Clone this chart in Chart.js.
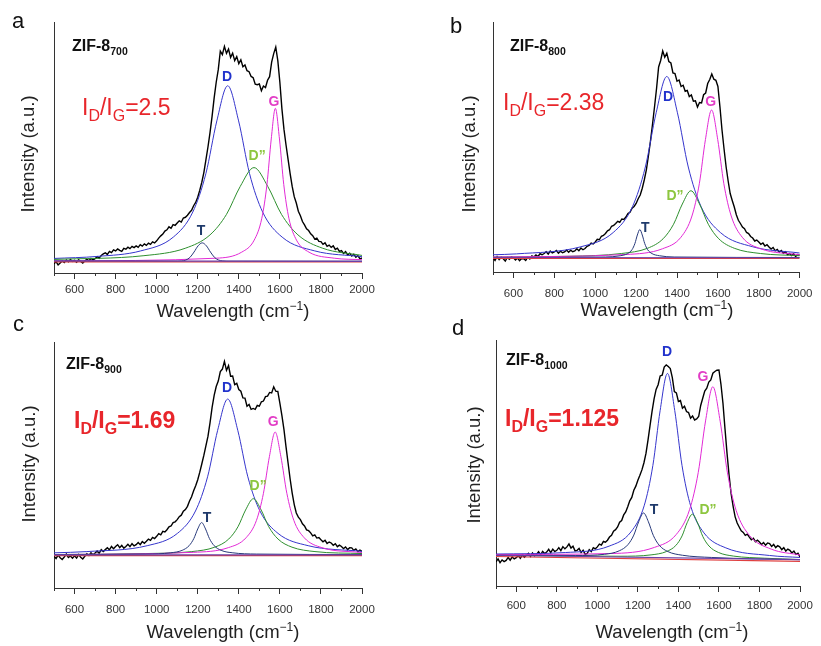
<!DOCTYPE html>
<html>
<head>
<meta charset="utf-8">
<script src="https://cdn.jsdelivr.net/npm/chart.js@4.4.1/dist/chart.umd.min.js"></script>
<style>
html, body { margin: 0; padding: 0; background: #fff; }
#wrap { position: relative; width: 821px; height: 646px; overflow: hidden; }
#wrap canvas { position: absolute; }
</style>
</head>
<body>
<div id="wrap">
  <canvas id="pa" width="410" height="322" style="left:0px;top:0px"></canvas>
  <canvas id="pb" width="411" height="322" style="left:410px;top:0px"></canvas>
  <canvas id="pc" width="410" height="334" style="left:0px;top:312px"></canvas>
  <canvas id="pd" width="411" height="334" style="left:410px;top:312px"></canvas>
</div>
<script>
// ---- data ----
const xTicks = [500, 600, 700, 800, 900, 1000, 1100, 1200, 1300, 1400, 1500, 1600, 1700, 1800, 1900, 2000];

// spectra sampled every 10 cm-1 from 500 to 2000
const wavenumbers = [];
for (let w = 500; w <= 2000; w += 10) wavenumbers.push(w);

const specA = [
  3.7,4.5,3.2,4.0,4.8,4.2,5.2,4.5,5.4,4.6,
  5.0,4.3,5.3,4.6,4.0,4.8,5.5,4.9,5.8,5.2,
  5.7,6.5,5.9,7.0,7.6,8.0,7.4,8.6,8.1,9.2,
  8.8,9.6,9.0,8.6,9.8,9.5,10.3,9.7,10.6,10.1,
  10.8,10.2,11.3,10.7,11.6,11.0,11.9,11.4,12.4,12.0,
  12.8,13.9,14.8,15.5,16.7,17.2,18.4,17.8,19.3,19.0,
  19.9,20.8,20.3,21.9,22.2,23.0,24.1,25.0,26.8,28.1,
  30.2,33.0,36.2,40.1,45.2,50.3,56.0,62.5,69.8,76.0,
  81.0,88.4,87.0,90.3,87.5,89.2,85.9,87.6,84.6,86.2,
  83.4,84.9,82.2,82.9,80.6,80.2,78.3,77.8,75.2,75.0,
  75.3,72.6,74.5,73.9,76.8,78.2,84.0,87.4,90.0,84.6,
  76.0,65.4,57.2,51.0,45.3,39.6,34.5,30.4,27.9,24.6,
  22.8,20.5,19.2,17.6,16.9,15.6,14.9,13.5,13.9,12.6,
  12.5,11.4,12.0,10.6,11.1,10.2,10.8,9.4,9.9,8.6,
  8.9,7.8,8.5,7.2,7.9,6.8,7.5,6.3,6.9,5.6,
  6.0
];
const specB = [
  5.7,4.6,6.2,5.0,5.9,5.3,4.4,5.8,5.1,6.1,
  5.7,4.8,5.6,4.5,5.4,5.3,4.6,5.9,5.2,6.4,
  6.0,6.8,6.2,7.3,6.9,7.4,8.1,7.2,8.4,7.6,
  8.0,8.6,7.5,8.3,7.7,8.0,8.8,7.9,8.7,8.1,
  8.4,9.3,8.5,9.6,8.9,9.4,10.3,10.6,11.6,11.2,
  12.0,13.1,12.9,14.3,14.6,15.4,16.5,16.9,18.3,18.6,
  19.4,20.3,19.9,21.2,21.0,22.0,23.4,23.9,25.5,26.2,
  27.4,29.3,30.8,33.5,36.9,40.8,46.4,52.3,59.0,66.1,
  73.5,82.0,84.6,88.4,85.9,87.5,84.2,83.6,79.6,79.4,
  76.3,76.8,74.2,74.7,72.3,72.6,70.2,70.8,68.3,68.5,
  66.0,67.8,67.6,70.9,71.6,75.4,77.0,79.2,77.1,76.7,
  74.2,66.0,56.8,49.2,42.1,36.4,31.4,28.6,26.0,22.9,
  20.7,19.4,18.0,17.3,15.8,15.4,14.2,13.6,12.4,12.8,
  12.0,11.1,11.6,10.4,10.9,10.0,9.2,9.8,8.5,9.0,
  8.0,8.6,7.5,8.1,7.0,7.4,6.6,7.3,6.2,7.0,
  6.7
];
const specC = [
  12.9,12.0,13.4,12.3,11.6,12.6,13.8,12.4,13.0,12.1,
  13.1,12.2,13.6,12.5,11.8,12.9,13.9,13.2,14.3,13.5,
  14.2,15.0,14.1,15.6,14.8,15.6,16.4,15.5,16.9,16.0,
  16.9,17.6,16.4,17.3,16.2,16.9,17.8,16.8,18.0,17.1,
  17.6,18.5,17.6,18.9,18.2,19.0,19.9,19.4,20.6,20.1,
  21.0,22.1,21.6,23.0,22.8,23.7,24.9,25.2,26.6,26.9,
  27.8,29.0,29.6,31.2,31.9,33.2,35.4,37.1,39.5,41.6,
  44.0,47.1,50.5,54.0,57.9,61.7,67.2,73.4,78.3,81.9,
  84.1,88.0,89.0,92.1,88.5,90.4,86.1,86.2,82.7,83.2,
  80.7,80.0,77.3,77.2,73.9,74.6,72.6,73.0,72.6,74.2,
  73.9,75.7,76.0,77.8,78.0,79.5,79.3,81.8,80.0,79.9,
  75.2,70.1,64.4,57.4,50.8,44.3,38.6,33.9,30.5,28.8,
  27.8,26.1,25.2,23.6,23.3,22.4,21.2,21.6,20.3,20.5,
  19.6,18.8,19.4,18.1,18.7,18.3,17.4,18.0,16.8,17.4,
  16.9,16.0,16.7,15.6,16.4,16.3,15.3,15.9,14.8,15.4,
  14.9
];
const specD = [
  9.8,11.0,9.5,10.6,9.9,10.4,11.6,10.5,11.8,11.0,
  11.5,12.4,11.3,12.6,11.7,12.5,13.3,12.0,13.4,12.3,
  12.8,13.9,12.7,14.1,13.2,13.8,14.9,13.6,15.0,14.0,
  14.5,15.6,14.4,16.0,15.1,15.9,17.1,15.4,16.2,14.3,
  14.5,15.3,13.6,14.5,12.9,13.2,14.8,14.0,15.6,15.1,
  15.9,17.0,16.6,18.1,17.8,18.6,19.9,20.6,22.3,22.9,
  24.0,25.9,26.6,28.9,30.1,32.2,34.6,36.0,38.9,40.6,
  43.0,45.0,47.2,50.1,53.9,59.3,65.2,71.0,76.1,79.9,
  81.8,85.4,85.7,89.0,89.9,89.2,88.4,84.7,79.0,78.5,
  75.0,75.4,72.3,73.1,70.9,70.5,68.2,69.1,67.5,67.9,
  68.9,73.4,76.3,79.2,80.4,82.9,83.8,86.5,87.2,87.7,
  87.8,82.0,74.2,63.8,53.9,45.1,37.6,32.4,28.1,25.6,
  24.0,22.4,21.8,20.6,21.1,19.9,18.8,19.4,18.0,18.6,
  17.9,16.9,17.7,16.6,17.5,17.2,16.1,16.9,15.6,16.4,
  15.9,14.8,15.6,14.2,15.0,14.5,13.4,14.2,12.9,13.3,
  11.8
];

// fitted components, [wavenumber, intensity]
const fitA_D  = [[500,5.8],[710,6.6],[922,8.8],[1081,14.3],[1176,24.3],[1240,39.7],[1293,60.6],[1346,74.6],[1399,60.6],[1452,39.7],[1516,24.3],[1611,14.3],[1770,8.8],[2000,6.5]];
const fitA_G  = [[500,4.8],[1291,5.9],[1414,8.3],[1475,13.1],[1512,21.8],[1537,35.2],[1558,53.4],[1578,65.6],[1598,53.4],[1619,35.2],[1644,21.8],[1681,13.1],[1742,8.3],[1865,5.9],[2000,5.3]];
const fitA_D2 = [[500,5.4],[938,6.9],[1139,9.85],[1260,15.2],[1340,23.35],[1407,34.5],[1474,42],[1541,34.5],[1608,23.35],[1688,15.2],[1809,9.85],[2000,7.0]];
const fitA_T  = [[500,4.7],[1102,4.7],[1122,4.8],[1142,5.16],[1162,6.2],[1182,8.35],[1202,10.84],[1222,12.0],[1242,10.84],[1262,8.35],[1282,6.2],[1302,5.16],[1322,4.8],[1342,4.7],[2000,4.7]];
const baseA_red = [[500,4.4],[2000,4.4]];
const baseA_pur = [[500,4.8],[2000,4.6]];

const fitB_D  = [[500,6.9],[615,7.25],[930,10.1],[1088,15.8],[1182,26.1],[1245,42.0],[1298,63.7],[1350,78.2],[1402,63.7],[1455,42.0],[1518,26.1],[1612,15.8],[1770,10.1],[2000,7.6]];
const fitB_G  = [[500,6.0],[1149,7.0],[1329,9.3],[1419,13.9],[1473,22.4],[1509,35.3],[1539,53.0],[1569,64.8],[1599,53.0],[1629,35.3],[1665,22.4],[1719,13.9],[1809,9.3],[2000,6.9]];
const fitB_D2 = [[500,6.0],[873,6.3],[1128,7.4],[1256,9.5],[1332,13.3],[1383,19.1],[1426,27.2],[1468,32.5],[1510,27.2],[1553,19.1],[1604,13.3],[1680,9.5],[1808,7.4],[2000,6.5]];
const fitB_T  = [[500,5.8],[1050,6.0],[1122,6.5],[1158,7.35],[1180,8.95],[1194,11.4],[1206,14.8],[1218,17.0],[1230,14.8],[1242,11.4],[1256,8.95],[1278,7.35],[1314,6.5],[1386,6.0],[2000,5.8]];
const baseB_red = [[500,5.4],[2000,5.4]];
const baseB_pur = [[500,5.8],[2000,5.7]];

const fitC_D  = [[500,14.3],[660,14.8],[954,17.2],[1101,22.2],[1189,31.3],[1248,45.2],[1297,64.1],[1346,76.8],[1395,64.1],[1444,45.2],[1503,31.3],[1591,22.2],[1738,17.2],[2000,14.9]];
const fitC_G  = [[500,13.6],[1178,14.5],[1349,16.4],[1435,20.4],[1486,27.5],[1520,38.5],[1549,53.4],[1577,63.4],[1605,53.4],[1634,38.5],[1668,27.5],[1719,20.4],[1805,16.4],[2000,14.4]];
const fitC_D2 = [[500,13.6],[946,14.0],[1171,14.8],[1283,16.6],[1351,19.9],[1396,24.9],[1433,31.7],[1471,36.3],[1509,31.7],[1546,24.9],[1591,19.9],[1659,16.6],[1771,14.8],[2000,14.0]];
const fitC_T  = [[500,13.6],[953,13.8],[1067,14.3],[1124,15.3],[1158,17.2],[1181,20.1],[1200,24.0],[1219,26.6],[1238,24.0],[1257,20.1],[1280,17.2],[1314,15.3],[1371,14.3],[1485,13.8],[2000,13.6]];
const baseC_red = [[500,13.2],[2000,13.2]];
const baseC_pur = [[500,13.5],[2000,13.5]];

const fitD_D  = [[500,13.0],[842,13.6],[1058,16.2],[1166,22.0],[1231,32.6],[1274,49.0],[1310,71.4],[1346,86.4],[1382,71.3],[1418,48.9],[1461,32.4],[1526,21.6],[1634,15.5],[1850,12.4],[2000,11.6]];
const fitD_G  = [[500,12.8],[1066,13.2],[1282,15.7],[1390,21.0],[1455,31.0],[1498,46.2],[1534,67.1],[1570,81.0],[1606,67.0],[1642,46.0],[1685,30.7],[1750,20.6],[1858,15.0],[2000,12.6]];
const fitD_D2 = [[500,12.5],[1112,12.1],[1265,12.65],[1341,14.0],[1387,16.45],[1418,20.35],[1443,25.7],[1469,29.2],[1495,25.6],[1520,20.2],[1551,16.25],[1597,13.65],[1673,12.15],[1826,11.3],[2000,10.75]];
const fitD_T  = [[500,12.5],[892,12.4],[1036,12.9],[1108,14.3],[1151,16.8],[1180,20.7],[1204,26.1],[1228,29.7],[1252,26.1],[1276,20.6],[1305,16.6],[1348,14.0],[1420,12.5],[1564,11.6],[2000,10.7]];
const baseD_red = [[500,12.0],[2000,10.0]];
const baseD_pur = [[500,12.5],[2000,10.7]];

const ratios = ['2.5', '2.38', '1.69', '1.125'];
const samples = ['700', '800', '900', '1000'];

// ---- styling / layout ----
const SANS = '"Liberation Sans", Arial, Helvetica, sans-serif';
Chart.defaults.font.family = SANS;

const COL = {
  spec: '#000000', D: '#3535cc', G: '#e22ad6', D2: '#2e8f2e', T: '#27397a',
  red: '#e04040', pur: '#6a40a8',
  lD: '#2233cc', lG: '#e23cc6', lD2: '#8dc63f', lT: '#1f3a6b', ratio: '#e8262b'
};

function f(size, bold) { return (bold ? 'bold ' : '') + size + 'px ' + SANS; }

function drawParts(ctx, x, y, parts) {
  let cx = x;
  parts.forEach(function (p) {
    ctx.font = p[1];
    ctx.fillText(p[0], cx, y + p[2]);
    cx += ctx.measureText(p[0]).width;
  });
}
function partsWidth(ctx, parts) {
  let w = 0;
  parts.forEach(function (p) { ctx.font = p[1]; w += ctx.measureText(p[0]).width; });
  return w;
}

function textPlugin(p) {
  return {
    id: 'panelText',
    afterDraw: function (chart) {
      const ctx = chart.ctx, xs = chart.scales.x, ys = chart.scales.y;
      const ox = p.left, oy = p.top;
      const bottom = chart.chartArea.bottom;
      ctx.save();

      // short ticks at the odd hundreds
      ctx.strokeStyle = '#333';
      ctx.lineWidth = 1;
      xTicks.forEach(function (v) {
        if (v % 200 === 0) return;
        const px = Math.round(xs.getPixelForValue(v)) + 0.5;
        ctx.beginPath();
        ctx.moveTo(px, bottom);
        ctx.lineTo(px, bottom + 3);
        ctx.stroke();
      });

      ctx.textAlign = 'left';
      ctx.textBaseline = 'alphabetic';

      // panel letter
      ctx.fillStyle = '#111';
      ctx.font = f(22);
      ctx.fillText(p.letter, p.letterX - ox, p.letterY - oy);

      // sample name
      drawParts(ctx, p.zifX - ox, p.zifY - oy, [['ZIF-8', f(16, true), 0], [samples[p.idx], f(10.5, true), 4]]);

      // ID/IG ratio
      ctx.fillStyle = COL.ratio;
      const b = p.ratioBold;
      drawParts(ctx, p.ratioX - ox, p.ratioY - oy, [
        ['I', f(23, b), 0], ['D', f(16, b), 6], ['/I', f(23, b), 0], ['G', f(16, b), 6], ['=' + ratios[p.idx], f(23, b), 0]
      ]);

      // peak labels
      ctx.textAlign = 'center';
      ctx.textBaseline = 'middle';
      ctx.font = f(14, true);
      p.peaks.forEach(function (lb) {
        ctx.fillStyle = lb.c;
        ctx.fillText(lb.t, xs.getPixelForValue(lb.x), ys.getPixelForValue(lb.y));
      });

      // y title
      ctx.save();
      ctx.translate(p.yTitleX - ox, p.yTitleY - oy);
      ctx.rotate(-Math.PI / 2);
      ctx.fillStyle = '#222';
      ctx.font = f(18.5);
      ctx.fillText('Intensity (a.u.)', 0, 0);
      ctx.restore();

      // x title
      ctx.textAlign = 'left';
      ctx.textBaseline = 'alphabetic';
      ctx.fillStyle = '#222';
      const xt = [['Wavelength (cm', f(18.5), 0], ['\u22121', f(12), -7], [')', f(18.5), 0]];
      const w = partsWidth(ctx, xt);
      drawParts(ctx, p.xTitleX - ox - w / 2, p.xTitleY - oy, xt);

      ctx.restore();
    }
  };
}

function line(data, color, width, smooth) {
  return {
    data: data, borderColor: color, borderWidth: width, pointRadius: 0, fill: false,
    tension: 0, cubicInterpolationMode: smooth ? 'monotone' : 'default'
  };
}

function makePanel(id, p, spec, D, G, D2, T, red, pur) {
  const specPts = wavenumbers.map(function (w, i) { return { x: w, y: spec[i] }; });
  new Chart(document.getElementById(id), {
    type: 'line',
    data: {
      datasets: [
        line(pur, COL.pur, 1.2, false),
        line(red, COL.red, 1.2, false),
        line(T, COL.T, 1, true),
        line(G, COL.G, 1, true),
        line(D2, COL.D2, 1, true),
        line(D, COL.D, 1, true),
        line(specPts, COL.spec, 1.4, false)
      ]
    },
    options: {
      responsive: false,
      animation: false,
      devicePixelRatio: 1,
      layout: { padding: { left: 0, right: p.padR, top: p.padT, bottom: 0 } },
      plugins: { legend: { display: false }, tooltip: { enabled: false } },
      scales: {
        x: {
          type: 'linear', min: 500, max: 2000,
          afterFit: function (s) { s.height = p.xH; },
          afterBuildTicks: function (s) { s.ticks = xTicks.map(function (v) { return { value: v }; }); },
          ticks: {
            autoSkip: false, maxRotation: 0, padding: p.tickPad, color: '#333',
            font: { size: 11.5 },
            callback: function (v) { return v % 200 === 0 ? String(v) : ''; }
          },
          grid: {
            drawOnChartArea: false, tickLength: 6, tickWidth: 1,
            tickColor: function (c) { return (c.tick && c.tick.value % 200 === 0) ? '#333' : 'rgba(0,0,0,0)'; }
          },
          border: { color: '#333', width: 1 }
        },
        y: {
          min: 0, max: 100,
          afterFit: function (s) { s.width = p.yW; },
          ticks: { display: false },
          grid: { display: false },
          border: { color: '#333', width: 1 }
        }
      }
    },
    plugins: [textPlugin(p)]
  });
}

const panelA = {
  idx: 0, left: 0, top: 0, yW: 54, padR: 48, padT: 22, xH: 49, tickPad: 4,
  letter: 'a', letterX: 12, letterY: 28, zifX: 72, zifY: 51,
  ratioX: 82, ratioY: 115, ratioBold: false,
  yTitleX: 29, yTitleY: 154, xTitleX: 233, xTitleY: 317,
  peaks: [
    { t: 'D', x: 1343, y: 78.1, c: COL.lD }, { t: 'G', x: 1571, y: 68.1, c: COL.lG },
    { t: 'D\u201D', x: 1489, y: 46.6, c: COL.lD2 }, { t: 'T', x: 1216, y: 16.7, c: COL.lT }
  ]
};
const panelB = {
  idx: 1, left: 410, top: 0, yW: 83, padR: 18, padT: 22, xH: 50, tickPad: 8.5,
  letter: 'b', letterX: 450, letterY: 33, zifX: 510, zifY: 51,
  ratioX: 503, ratioY: 110, ratioBold: false,
  yTitleX: 470, yTitleY: 154, xTitleX: 657, xTitleY: 316,
  peaks: [
    { t: 'D', x: 1356, y: 70, c: COL.lD }, { t: 'G', x: 1565, y: 68, c: COL.lG },
    { t: 'D\u201D', x: 1390, y: 30.4, c: COL.lD2 }, { t: 'T', x: 1245, y: 17.6, c: COL.lT }
  ]
};
const panelC = {
  idx: 2, left: 0, top: 312, yW: 54, padR: 48, padT: 30, xH: 58, tickPad: 9,
  letter: 'c', letterX: 13, letterY: 331, zifX: 66, zifY: 369,
  ratioX: 74, ratioY: 428, ratioBold: true,
  yTitleX: 30, yTitleY: 464, xTitleX: 223, xTitleY: 638,
  peaks: [
    { t: 'D', x: 1343, y: 81.3, c: COL.lD }, { t: 'G', x: 1567, y: 67.5, c: COL.lG },
    { t: 'D\u201D', x: 1494, y: 41.5, c: COL.lD2 }, { t: 'T', x: 1245, y: 28.5, c: COL.lT }
  ]
};
const panelD = {
  idx: 3, left: 410, top: 312, yW: 86, padR: 21, padT: 28, xH: 60, tickPad: 7,
  letter: 'd', letterX: 452, letterY: 335, zifX: 506, zifY: 365,
  ratioX: 505, ratioY: 426, ratioBold: true,
  yTitleX: 475, yTitleY: 465, xTitleX: 672, xTitleY: 638,
  peaks: [
    { t: 'D', x: 1344, y: 95.1, c: COL.lD }, { t: 'G', x: 1521, y: 85, c: COL.lG },
    { t: 'D\u201D', x: 1546, y: 30.9, c: COL.lD2 }, { t: 'T', x: 1280, y: 30.9, c: COL.lT }
  ]
};

makePanel('pa', panelA, specA, fitA_D, fitA_G, fitA_D2, fitA_T, baseA_red, baseA_pur);
makePanel('pb', panelB, specB, fitB_D, fitB_G, fitB_D2, fitB_T, baseB_red, baseB_pur);
makePanel('pc', panelC, specC, fitC_D, fitC_G, fitC_D2, fitC_T, baseC_red, baseC_pur);
makePanel('pd', panelD, specD, fitD_D, fitD_G, fitD_D2, fitD_T, baseD_red, baseD_pur);
</script>
</body>
</html>
